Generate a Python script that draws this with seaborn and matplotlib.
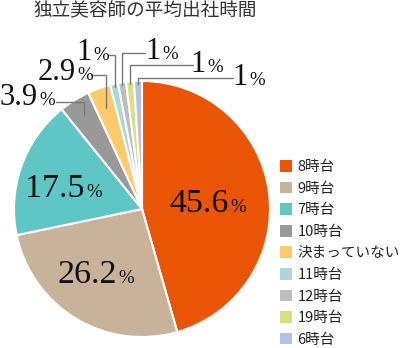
import numpy as np
import matplotlib
matplotlib.use("Agg")
import matplotlib.pyplot as plt
import seaborn as sns

# ---- data ----
categories = ["8時台", "9時台", "7時台", "10時台", "決まっていない", "11時台", "12時台", "19時台", "6時台"]
values = [45.6, 26.2, 17.5, 3.9, 2.9, 1, 1, 1, 1]
value_labels = ["45.6", "26.2", "17.5", "3.9", "2.9", "1", "1", "1", "1"]
colors = ["#E95504", "#C8B29A", "#5EC6C4", "#999999", "#FFCA6A",
          "#A9D6DF", "#BDBDBD", "#D6E07E", "#B3C1E6"]
title = "独立美容師の平均出社時間"

# ---- layout (pixel coordinates, y downward) ----
W, H = 400, 348
cx, cy, R = 142, 209, 128
# label junction x (between number and %), baseline y
label_pos = [(229, 212), (117, 283), (85, 197), (38, 105), (76, 80),
             (92, 60), (161, 59), (206, 72), (248, 85)]
num_sizes = [24.5, 24.5, 24.5, 22, 22, 22, 22, 22, 22]
# leaders: index -> (anchor radius fraction, elbow y, end x)
leaders = {3: (0.86, 101.7, 56), 4: (0.84, 75, 91), 5: (0.98, 55, 108),
           6: (0.98, 52.7, 145), 7: (0.98, 65, 193), 8: (0.98, 78, 233)}

sns.set_theme(style="white")
plt.rcParams['font.family'] = ['Noto Sans CJK JP', 'DejaVu Sans']

fig = plt.figure(figsize=(W / 100, H / 100), dpi=100)
ax = fig.add_axes([0, 0, 1, 1])

def Y(y):
    return H - y

wedges, _ = ax.pie(values, colors=colors, startangle=90, counterclock=False,
                   radius=R, center=(cx, Y(cy)),
                   wedgeprops=dict(edgecolor="white", linewidth=1.5))
ax.set_xlim(0, W)
ax.set_ylim(0, H)
ax.set_aspect("equal")
ax.axis("off")

serif = "Liberation Serif"
total = sum(values)
cum = np.cumsum([0] + values[:-1])
for i, (lab, (jx, by)) in enumerate(zip(value_labels, label_pos)):
    ax.text(jx, Y(by), lab, ha="right", va="baseline", fontsize=num_sizes[i],
            family=serif, color="#111111")
    ax.text(jx + 1, Y(by), "%", ha="left", va="baseline", fontsize=13.5,
            family=serif, color="#111111")
    if i in leaders:
        frac, ey, ex = leaders[i]
        mid = (cum[i] + values[i] / 2) / total * 2 * np.pi
        axp = cx + np.sin(mid) * R * frac
        ayp = cy - np.cos(mid) * R * frac
        ax.plot([axp, axp, ex], [Y(ayp), Y(ey), Y(ey)], color="#777777", lw=1.0,
                solid_joinstyle="miter")

ax.text(33, Y(11.5), title, ha="left", va="center", fontsize=13.4, color="#333333")

leg = ax.legend(wedges, categories, loc="upper left", bbox_to_anchor=(280 / W, 1 - 160 / H),
                frameon=False, fontsize=10.5, handlelength=0.85, handleheight=0.85,
                handletextpad=0.35, labelspacing=0.52, borderaxespad=0, borderpad=0)
for t in leg.get_texts():
    t.set_color("#222222")
for h in leg.legend_handles:
    h.set_edgecolor("none")

fig.savefig("out.png", dpi=100)
